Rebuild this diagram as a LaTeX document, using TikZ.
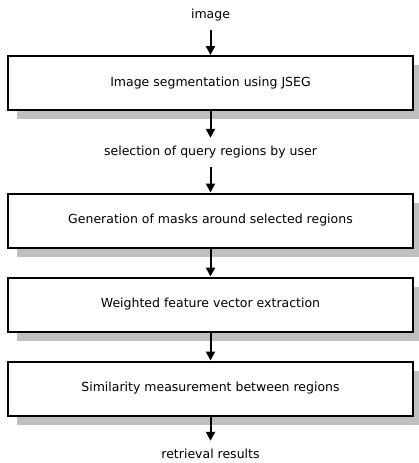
\documentclass[tikz,border=0pt]{standalone}
\usepackage{fontspec}
\setmainfont{DejaVu Sans}
\usetikzlibrary{arrows.meta, shadows}

\begin{document}
\begin{tikzpicture}[x=1pt, y=-1pt, >={Triangle[length=9pt,width=9pt]},
	font=\fontsize{12.5}{15}\selectfont,
	procbox/.style={draw, line width=2pt, fill=white, minimum width=405pt,
		minimum height=54pt, inner sep=0pt,
		drop shadow={shadow xshift=9pt, shadow yshift=-9pt, fill=black!25, opacity=1}},
	iotext/.style={inner xsep=2pt, inner ysep=9pt, text height=8pt, text depth=3pt, anchor=base},
	flow/.style={->, line width=2pt}]
\useasboundingbox (0,0) rectangle (418,463);
%========================
% inputs, steps and outputs
%========================
\node[iotext] (img) at (210.5,18) {image};
\node[procbox] (jseg) at (210.5,83) {Image segmentation using JSEG};
\node[iotext] (query) at (210.5,155) {selection of query regions by user};
\node[procbox] (mask) at (210.5,220.5) {Generation of masks around selected regions};
\node[procbox] (feat) at (210.5,304.5) {Weighted feature vector extraction};
\node[procbox] (simil) at (210.5,388.5) {Similarity measurement between regions};
\node[iotext] (result) at (210.5,458) {retrieval results};

% arrows
\draw[flow] (img) -- (jseg);
\draw[flow] (jseg) -- (query);
\draw[flow] (query) -- (mask);
\draw[flow] (mask) -- (feat);
\draw[flow] (feat) -- (simil);
\draw[flow] (simil) -- (result);
\end{tikzpicture}
\end{document}
